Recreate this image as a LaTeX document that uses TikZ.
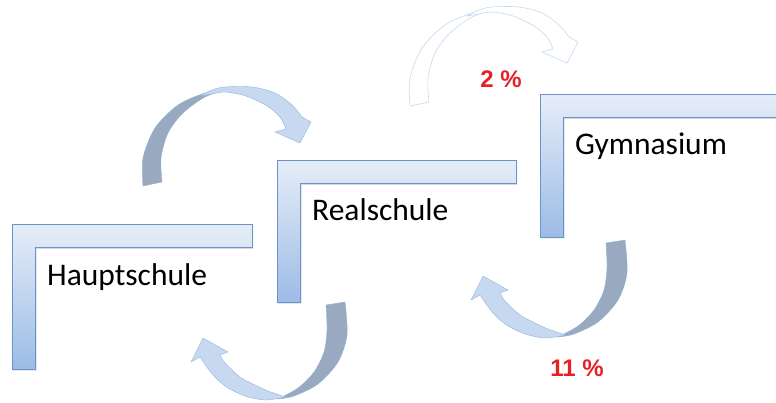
\documentclass[tikz,border=0pt]{standalone}
\usepackage{fontspec}
\setmainfont{Carlito}
\newfontfamily\arialfont{Liberation Sans}
\usetikzlibrary{shadows}

\definecolor{klammerrand}{RGB}{108,146,204}
\definecolor{klammeroben}{RGB}{230,237,248}
\definecolor{klammerunten}{RGB}{156,188,230}
\definecolor{pfeilhell}{RGB}{198,217,241}
\definecolor{pfeilrand}{RGB}{149,179,215}
\definecolor{pfeildunkel}{RGB}{152,169,192}
\definecolor{quoterot}{RGB}{232,32,38}

\begin{document}
\begin{tikzpicture}[x=1pt, y=-1pt,
    klammer/.style={draw=klammerrand, line width=0.8pt,
        top color=klammeroben, bottom color=klammerunten,
        drop shadow={shadow xshift=1pt, shadow yshift=-1.5pt, opacity=0.3}},
    schule/.style={anchor=base west, inner sep=0pt,
        font=\fontsize{31.5}{32}\selectfont},
    vorn/.style={fill=pfeilhell, draw=pfeilrand, line width=0.4pt},
    hinten/.style={fill=pfeildunkel, draw=pfeilrand, line width=0.4pt},
    umriss/.style={fill=white, draw=pfeilhell, line width=0.6pt},
    quote/.style={anchor=base, inner sep=0pt, text=quoterot,
        font=\arialfont\bfseries\fontsize{24}{24}\selectfont}]
    \useasboundingbox (0,0) rectangle (776,403);

    % Stufen mit Schulnamen
    \foreach \x/\y/\b/\h/\name/\schule in {12/224/240/145/haupt/Hauptschule,
        277/160/239/142/real/Realschule, 540/94/260/143/gym/Gymnasium}{
        \path[klammer] (\x,\y) -- ++(\b,0) -- ++(0,23.5) -- (\x+23.5,\y+23.5)
            -- (\x+23.5,\y+\h) -- (\x,\y+\h) -- cycle;
        \node[schule] (\name) at (\x+35,\y+61) {\schule};
    }

    % Bogen nach oben (Aufstieg)
    \foreach \dx/\dy/\hs/\vs in {0/0/hinten/vorn, 267/-80/umriss/umriss}{
        \begin{scope}[shift={(\dx,\dy)}]
            \path[\hs] plot[smooth] coordinates {(143,186) (143,158)
                (155,128) (178,105) (205,93) (230,88)}
                -- plot[smooth] coordinates {(230,88) (205,97) (183,113)
                (168,133) (161,158) (162,182)} -- cycle;
            \path[\vs] plot[smooth] coordinates {(200,96) (212,90) (225,87)
                (252,87) (275,93) (292,105) (302,117)}
                -- (311,122) -- (300,143) -- (275,132) -- (286,129)
                -- plot[smooth] coordinates {(286,129) (280,117) (267,106)
                (246,96) (225,92) (212,94) (200,96)} -- cycle;
        \end{scope}
    }

    % Bogen nach unten (Abstieg)
    \foreach \dx/\dy in {0/0, 280/-62}{
        \begin{scope}[shift={(\dx,\dy)}]
            \path[hinten] plot[smooth] coordinates {(345,302) (347,335)
                (338,362) (318,384) (294,396) (278,399)}
                -- plot[smooth] coordinates {(278,399) (298,388) (314,372)
                (324,352) (327,330) (326,305)} -- cycle;
            \path[vorn] plot[smooth] coordinates {(286,397) (265,400)
                (245,396) (228,388) (218,380) (209,370) (200,357)}
                -- (191,362) -- (203,338) -- (228,352) -- (220,355)
                -- plot[smooth] coordinates {(220,355) (225,363) (240,377)
                (253,384) (268,391) (286,397)} -- cycle;
        \end{scope}
    }

    % Anteile
    \node[quote] (zwei) at (501,88) {2 \%};
    \node[quote] (elf) at (577,376) {11 \%};
\end{tikzpicture}
\end{document}
